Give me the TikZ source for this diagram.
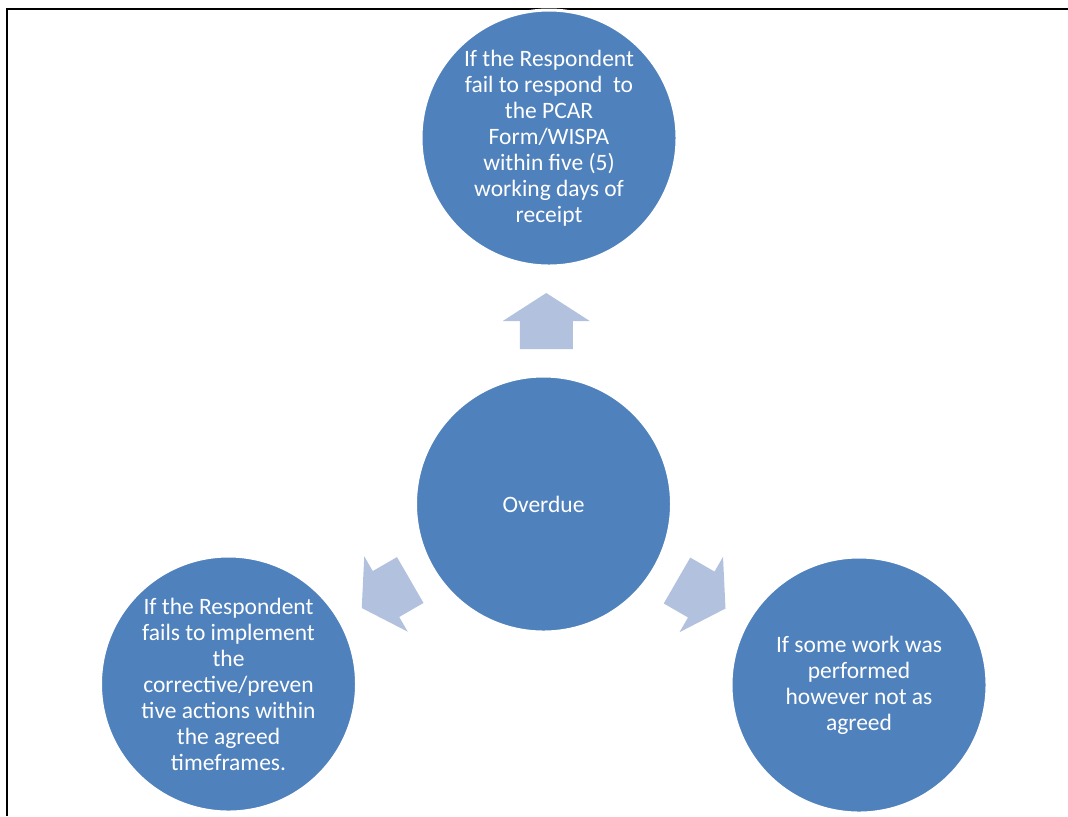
\documentclass[tikz,border=0pt]{standalone}
\usepackage{fontspec}
\setmainfont{Carlito}
\usepackage{tikz}
\usetikzlibrary{positioning,calc}
\definecolor{odBlue}{HTML}{4F81BD}
\definecolor{odBlueL}{HTML}{B2C2DE}
\definecolor{odWhite}{HTML}{FFFFFF}
\tikzset{
  od-circle/.style={
    circle, fill=odBlue, draw=odWhite, line width=1.5pt,
    minimum size=128pt, inner sep=0pt, align=center, text=odWhite,
    font=\fontsize{11.75pt}{13pt}\selectfont
  },
  od-frame/.style={line width=1pt, draw=black},
  od-arrow/.pic={
    \fill[odBlueL] (-28,-26.5) -- (0,-26.5) -- (0,-43.5) -- (28,0)
      -- (0,43.5) -- (0,26.5) -- (-28,26.5) -- cycle;
  }
}

\begin{document}
\begin{tikzpicture}[x=0.5pt, y=-0.5pt]
\useasboundingbox (0,0) rectangle (1068,816);

% cell border
\draw[od-frame] (1068,9) -- (7,9) -- (7,816);

\node[od-circle] (overdue) at (543.5,504) {Overdue};
\node[od-circle] (respond) at (549,138)
  {If the Respondent\\ fail to respond\ \ to\\ the PCAR\\ Form/WISPA\\
  within five (5)\\ working days of\\ receipt};
\node[od-circle] (implement) at (228.5,684)
  {If the Respondent\\ fails to implement\\ the\\ corrective/preven\\
  tive actions within\\ the agreed\\ timeframes.};
\node[od-circle] (work) at (859,685)
  {If some work was\\ performed\\ however not as\\ agreed};

% Arrows out of the centre
\pic[rotate=90] at ($(overdue)!0.5!(respond)$) {od-arrow};
\pic[rotate=210] at ($(overdue)!0.5!(implement)$) {od-arrow};
\pic[rotate=-30] at ($(overdue)!0.5!(work)$) {od-arrow};
\end{tikzpicture}
\end{document}
